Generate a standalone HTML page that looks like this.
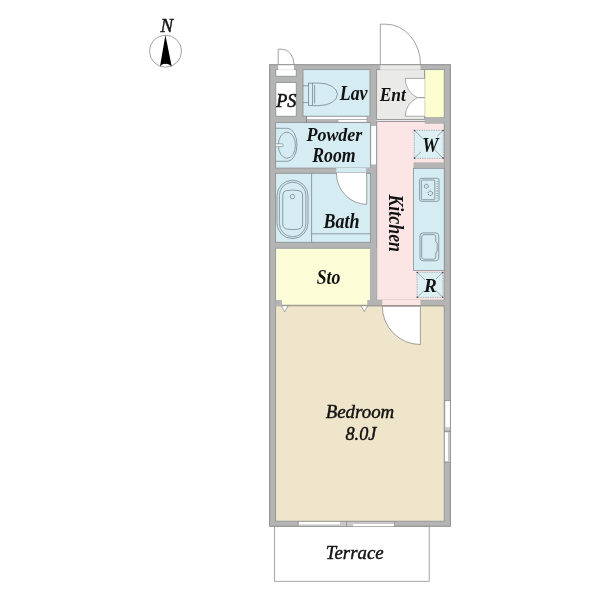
<!DOCTYPE html>
<html><head><meta charset="utf-8">
<style>
html,body{margin:0;padding:0;background:#fff;width:600px;height:600px;overflow:hidden}
svg{display:block;will-change:transform}
text{font-family:"Liberation Serif",serif;font-style:italic;fill:#121212}
.fx{fill:none;stroke:#6c7a80;stroke-width:0.7}
.ln{fill:none;stroke:#8a8a8a;stroke-width:0.8}
</style></head><body>
<svg width="600" height="600" viewBox="0 0 600 600">
<!-- compass -->
<circle cx="165.5" cy="51.2" r="16" fill="none" stroke="#8a8a8a" stroke-width="0.8"/>
<path d="M165.4 35.1 L171.7 66.6 Q168.5 63.2 165.4 63.9 Q162.3 63.2 160 66.6 Z" fill="#000"/>
<text stroke="#121212" stroke-width="0.45" transform="translate(160.5 31.75)" font-size="18.9">N</text>

<!-- PS door swing -->
<path class="ln" d="M278.2 64.5 V49.2 H282 A12 15.3 0 0 1 294 64.5"/>
<!-- Ent door swing -->
<path class="ln" d="M380.3 64.5 V24.2 H386 A34.5 40.3 0 0 1 420.5 64.5"/>

<!-- terrace -->
<rect x="274.6" y="526" width="154.6" height="55.3" fill="#fff" stroke="#9a9a9a" stroke-width="0.9"/>

<!-- outer wall mass -->
<rect x="269.6" y="64.7" width="180.8" height="461.6" fill="#b4b4b4" stroke="#8c8c8c" stroke-width="1"/>

<!-- rooms -->
<g stroke="#8f9497" stroke-width="0.9">
<rect x="275.8" y="69.6" width="20.45" height="6.65" fill="#fff"/>
<rect x="275.8" y="82.5" width="20.45" height="33.75" fill="#fff"/>
<rect x="303" y="69.6" width="67" height="46.6" fill="#d6ecf3"/>
<rect x="376.6" y="69.6" width="48.1" height="50" fill="#eaeae8"/>
<rect x="424.7" y="69.6" width="19.55" height="48.2" fill="#fdfdd0"/>
<rect x="275.6" y="122.6" width="94.8" height="45.5" fill="#d6ecf3"/>
<rect x="275.6" y="173.3" width="94.8" height="69" fill="#d6ecf3"/>
<rect x="376.7" y="121.2" width="67.5" height="179" fill="#fce5e5"/>
<rect x="275.6" y="248.2" width="94.8" height="57" fill="#fdfdd8"/>
<rect x="275.6" y="305.6" width="168.6" height="215.6" fill="#efe5ca"/>
</g>
<!-- PS door opening -->
<rect x="278.2" y="65.3" width="15.8" height="4.5" fill="#fff"/>
<!-- Ent door opening -->
<rect x="380.3" y="65.3" width="40.2" height="4.5" fill="#eaeae8"/>
<rect x="376.6" y="119.5" width="67.6" height="1.7" fill="#f2f0f0"/>
<line x1="376.6" y1="119.5" x2="444.2" y2="119.5" stroke="#8f8f8f" stroke-width="0.8"/>
<line x1="376.6" y1="121.4" x2="444.2" y2="121.4" stroke="#8f8f8f" stroke-width="0.8"/>
<!-- wall below shoe box -->
<rect x="424.7" y="117.8" width="19.5" height="6" fill="#b4b4b4"/>

<!-- lav sliding door -->
<rect x="306.3" y="116.4" width="63.7" height="6" fill="#b4b4b4"/>
<rect x="306.5" y="116.6" width="60.5" height="3" fill="#fff" stroke="#8f8f8f" stroke-width="0.5"/>
<rect x="338" y="119.6" width="29" height="2.6" fill="#fff" stroke="#8f8f8f" stroke-width="0.5"/>
<line x1="306.5" y1="116.4" x2="306.5" y2="122.4" stroke="#777" stroke-width="0.7"/>
<line x1="303" y1="122.4" x2="370" y2="122.4" stroke="#8f8f8f" stroke-width="0.6"/>
<!-- powder/kitchen pocket -->
<rect x="371.2" y="126" width="4.8" height="38.4" fill="#fff"/>

<!-- W box -->
<rect x="414.3" y="130.3" width="29" height="28" fill="#dcf0f4" stroke="#7c8a90" stroke-width="0.6" stroke-dasharray="1.4 1"/>
<path d="M414.3 130.3 L424 139.6 M443.3 130.3 L437 136.5 M414.3 158.3 L421 151.8 M443.3 158.3 L434 149.3" stroke="#6c7a80" stroke-width="0.6"/>
<circle cx="414.5" cy="130.5" r="0.8" fill="#444"/><circle cx="443.1" cy="130.5" r="0.8" fill="#444"/>
<circle cx="414.5" cy="158.1" r="0.8" fill="#444"/><circle cx="443.1" cy="158.1" r="0.8" fill="#444"/>
<rect x="413.5" y="162.4" width="30.7" height="5.9" fill="#b4b4b4"/>
<!-- counter -->
<rect x="413.5" y="168.3" width="30.7" height="102.1" fill="#d6ecf3" stroke="#7a868a" stroke-width="0.7"/>
<!-- stove -->
<rect x="419.6" y="178.3" width="19.4" height="23" rx="1.8" class="fx"/>
<rect x="421.4" y="180" width="13.4" height="19.7" rx="0.8" class="fx"/>
<circle cx="437.1" cy="181.50" r="0.55" fill="#5f6d72"/><circle cx="437.1" cy="183.85" r="0.55" fill="#5f6d72"/><circle cx="437.1" cy="186.20" r="0.55" fill="#5f6d72"/><circle cx="437.1" cy="188.55" r="0.55" fill="#5f6d72"/><circle cx="437.1" cy="190.90" r="0.55" fill="#5f6d72"/><circle cx="437.1" cy="193.25" r="0.55" fill="#5f6d72"/><circle cx="437.1" cy="195.60" r="0.55" fill="#5f6d72"/><circle cx="437.1" cy="197.95" r="0.55" fill="#5f6d72"/>
<circle cx="426.3" cy="186.3" r="2" fill="none" stroke="#505c62" stroke-width="0.85" stroke-dasharray="1.4 0.7"/>
<circle cx="430.3" cy="193.3" r="2.2" fill="none" stroke="#505c62" stroke-width="0.85" stroke-dasharray="1.4 0.7"/>
<!-- sink -->
<rect x="420" y="232.9" width="18.75" height="27.9" rx="3" class="fx"/>
<path class="fx" d="M424 234.6 H433.5 Q435.8 234.6 435.8 237 V241.7 L437.2 243 V251.5 L435.8 252.5 V257 Q435.8 259.2 433.5 259.2 H424 Q421.7 259.2 421.7 257 V237 Q421.7 234.6 424 234.6 Z"/>
<!-- R box -->
<rect x="417.1" y="272.3" width="25.8" height="25.1" fill="#dcf0f4" stroke="#7c8a90" stroke-width="0.6" stroke-dasharray="1.4 1"/>
<path d="M417.1 272.3 L425 280 M442.9 272.3 L436 279 M417.1 297.4 L424 290.6 M442.9 297.4 L435.5 290.2" stroke="#6c7a80" stroke-width="0.6"/>
<circle cx="417.3" cy="272.5" r="0.8" fill="#444"/><circle cx="442.7" cy="272.5" r="0.8" fill="#444"/>
<circle cx="417.3" cy="297.2" r="0.8" fill="#444"/><circle cx="442.7" cy="297.2" r="0.8" fill="#444"/>

<!-- kitchen bottom wall w/ door opening -->
<rect x="367.3" y="300" width="15" height="6.4" fill="#b4b4b4"/>
<rect x="370" y="248" width="6.7" height="58" fill="#b4b4b4"/>
<rect x="420.4" y="300.2" width="23.8" height="6.2" fill="#b4b4b4"/>
<rect x="382.3" y="299.8" width="38.1" height="5.5" fill="#fce5e5"/>
<line x1="281.9" y1="305.7" x2="444.2" y2="305.7" stroke="#a39d92" stroke-width="1.2"/>
<rect x="275.6" y="300" width="6.3" height="6.3" fill="#b4b4b4"/>
<!-- folding door triangles -->
<path d="M281.3 305.8 L288.1 305.8 L284.7 311.9 Z" fill="#fff" stroke="#777" stroke-width="0.6"/>
<path d="M361 305.8 L367.7 305.8 L364.3 311.7 Z" fill="#fff" stroke="#777" stroke-width="0.6"/>

<!-- bedroom door -->
<path d="M382.3 306.3 A38.1 38.2 0 0 0 420.4 344.5 V306.3 Z" fill="#fff" stroke="#7c7c7c" stroke-width="0.7"/>

<!-- bath door -->
<rect x="336.4" y="168" width="30.3" height="5" fill="#d6ecf3"/>
<rect x="366.2" y="168" width="4.6" height="5" fill="#b4b4b4"/>
<line x1="336.4" y1="172.9" x2="370.4" y2="172.9" stroke="#999" stroke-width="0.8"/>
<path d="M336.4 172.9 A30.3 31.4 0 0 0 366.7 204.3 V172.9" fill="#fff" stroke="#7c7c7c" stroke-width="0.7"/>

<!-- bath fixtures -->
<line x1="311.6" y1="173.3" x2="311.6" y2="242.2" class="fx"/>
<line x1="311.6" y1="233.8" x2="370.4" y2="233.8" class="fx"/>
<rect x="277" y="180.2" width="31" height="58.4" rx="15.5" class="fx"/>
<rect x="279.4" y="182.2" width="26.5" height="54.6" rx="13.2" class="fx"/>
<path class="fx" d="M286.5 190.6 Q292.7 189.6 298.9 190.6 Q302.6 191 302.6 195 V224 Q302.6 228.6 298 229.2 Q292.7 230 287.4 229.2 Q282.8 228.6 282.8 224 V195 Q282.8 191 286.5 190.6 Z"/>
<circle cx="292.4" cy="196.6" r="2.2" class="fx"/>

<!-- powder sink -->
<path class="fx" d="M275.6 128.3 H288 A9.5 16.5 0 0 1 288 161.25 H275.6"/>
<ellipse cx="286.9" cy="145.2" rx="8.55" ry="13.1" class="fx"/>
<rect x="275.2" y="143.75" width="8.1" height="2.95" rx="1.4" fill="#eef6f8" stroke="#6c7a80" stroke-width="0.6"/>

<!-- toilet -->
<path class="fx" d="M303 85.75 H308.6 M303 102.6 H308.6"/>
<rect x="308.6" y="83.1" width="3.8" height="22.5" class="fx"/>
<path class="fx" d="M312.4 83.1 H319 A18.5 11.25 0 0 1 319 105.6 H312.4"/>
<line x1="314.6" y1="85" x2="314.6" y2="103.6" class="fx"/>

<!-- Ent cabinet -->
<path d="M405.2 78.4 H424.7 V116.2 H405.2 A21 21 0 0 1 417.3 97.6 A21 21 0 0 1 405.2 78.4 Z" fill="#fff"/>
<path d="M424.7 78.4 H405.2 A21 21 0 0 0 417.3 97.6 A21 21 0 0 0 405.2 116.2 H424.7" fill="none" stroke="#8a8a8a" stroke-width="0.7"/><line x1="417.3" y1="97.6" x2="424.7" y2="97.6" stroke="#999" stroke-width="1.1"/>

<!-- windows -->
<rect x="298" y="521.3" width="48.5" height="5.4" fill="#c8c8c8" stroke="#8a8a8a" stroke-width="0.6"/>
<rect x="299" y="521.9" width="41" height="2.5" fill="#fff"/>
<rect x="346.5" y="521.3" width="48" height="5.4" fill="#c8c8c8" stroke="#8a8a8a" stroke-width="0.6"/>
<rect x="353" y="524" width="41" height="2.2" fill="#fff"/>
<rect x="444.4" y="400.6" width="6.2" height="61.9" fill="#c8c8c8" stroke="#8a8a8a" stroke-width="0.6"/>
<rect x="445.4" y="401.2" width="4.4" height="26" fill="#fff"/>
<rect x="444.9" y="432.5" width="3" height="28.5" fill="#fff"/>
<line x1="444.4" y1="431.25" x2="450.6" y2="431.25" stroke="#777" stroke-width="0.8"/>

<!-- labels -->
<text stroke="#121212" stroke-width="0.6" transform="translate(276.3 106.7) scale(0.943 1)" font-size="19.2">PS</text>
<text transform="translate(339.7 99.7) scale(0.896 1)" font-size="20" font-weight="bold">Lav</text>
<text transform="translate(379.7 100.7) scale(0.913 1)" font-size="19.1" font-weight="bold">Ent</text>
<text transform="translate(306.4 140.9) scale(0.923 1)" font-size="19.5" font-weight="bold">Powder</text>
<text transform="translate(312.25 162.4) scale(0.875 1)" font-size="20.3" font-weight="bold">Room</text>
<text transform="translate(323.5 227.8) scale(0.9 1)" font-size="20" font-weight="bold">Bath</text>
<text transform="translate(316.7 283.9) scale(0.875 1)" font-size="20.3" font-weight="bold">Sto</text>
<text transform="translate(422.3 151.7) scale(0.875 1)" font-size="20.8" font-weight="bold">W</text>
<text transform="translate(424 292) scale(0.97 1)" font-size="19.8" font-weight="bold">R</text>
<text transform="translate(388.6 194.4) rotate(90) scale(0.856 1)" font-size="20.9" font-weight="bold">Kitchen</text>
<text stroke="#121212" stroke-width="0.45" transform="translate(325.7 418) scale(1.0 1)" font-size="18.9">Bedroom</text>
<text stroke="#121212" stroke-width="0.45" transform="translate(345.5 440) scale(0.97 1)" font-size="18.8">8.0J</text>
<text stroke="#121212" stroke-width="0.45" transform="translate(325.8 558.9) scale(0.95 1)" font-size="19.8">Terrace</text>
</svg>
</body></html>
